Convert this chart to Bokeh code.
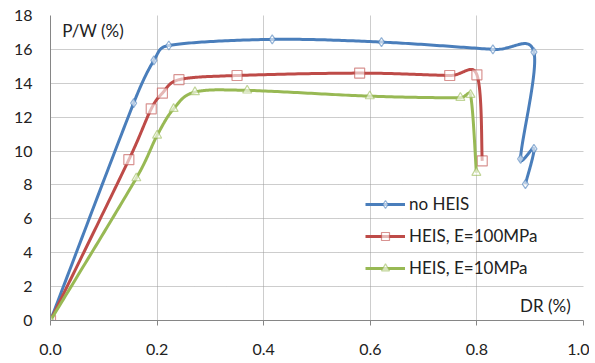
import numpy as np
from bokeh.plotting import figure
from bokeh.models import (Range1d, FixedTicker, Legend, LegendItem, Label,
                          CustomJSTickFormatter)
from bokeh.embed import file_html
from bokeh.resources import INLINE

# ---- data ----
series_names = ["no HEIS", "HEIS, E=100MPa", "HEIS, E=10MPa"]

dr_noheis = [0.0, 0.156, 0.194, 0.222, 0.416, 0.621, 0.830, 0.907, 0.882, 0.907, 0.891]
pw_noheis = [0.0, 12.83, 15.35, 16.23, 16.59, 16.43, 16.00, 15.84, 9.54, 10.13, 8.05]

dr_e100 = [0.0, 0.147, 0.189, 0.210, 0.241, 0.350, 0.580, 0.749, 0.800, 0.810]
pw_e100 = [0.0, 9.49, 12.49, 13.42, 14.21, 14.46, 14.60, 14.46, 14.50, 9.42]

dr_e10 = [0.0, 0.161, 0.200, 0.231, 0.271, 0.369, 0.599, 0.769, 0.788, 0.799]
pw_e10 = [0.0, 8.40, 10.92, 12.49, 13.48, 13.58, 13.24, 13.15, 13.32, 8.72]

x_ticks = [0.0, 0.2, 0.4, 0.6, 0.8, 1.0]
y_ticks = list(range(0, 19, 2))

colors = ["#4A7EBB", "#BE4B48", "#98B954"]
markers = ["diamond", "square", "triangle"]
marker_sizes = [9, 10, 9]
FONT = "Lato"

FW, FH = 533, 305
XR, YR = (0.0, 1.0), (0.0, 18.0)


def smooth(xs, ys, n=40):
    """Spreadsheet-style smoothed line: Bezier segments whose tangent
    handles are 1/6 of the neighbour chord, limited to half the segment
    (computed in screen pixels)."""
    sx = FW / (XR[1] - XR[0])
    sy = FH / (YR[1] - YR[0])
    P = np.column_stack([np.asarray(xs) * sx, np.asarray(ys) * sy]).astype(float)
    m = len(P)
    out = [P[0]]
    t = np.linspace(0, 1, n)[1:][:, None]
    for i in range(m - 1):
        p0 = P[i - 1] if i > 0 else P[i]
        p1 = P[i]
        p2 = P[i + 1]
        p3 = P[i + 2] if i + 2 < m else P[i + 1]
        d02 = np.hypot(*(p2 - p0))
        d12 = np.hypot(*(p2 - p1))
        d13 = np.hypot(*(p3 - p1))
        f1 = 1 / 6.0
        f2 = 1 / 6.0
        if d02 > 0 and d02 / 6.0 > d12 / 2.0:
            f1 = d12 / (2.0 * d02)
        if d13 > 0 and d13 / 6.0 > d12 / 2.0:
            f2 = d12 / (2.0 * d13)
        c1 = p1 + (p2 - p0) * f1
        c2 = p2 - (p3 - p1) * f2
        seg = ((1 - t) ** 3) * p1 + 3 * ((1 - t) ** 2) * t * c1 \
            + 3 * (1 - t) * t ** 2 * c2 + t ** 3 * p2
        out.extend(seg)
    out = np.array(out)
    return out[:, 0] / sx, out[:, 1] / sy


p = figure(frame_width=FW, frame_height=FH,
           x_range=Range1d(*XR), y_range=Range1d(*YR),
           output_backend="svg", toolbar_location=None,
           min_border_left=50, min_border_top=15, min_border_right=6,
           min_border_bottom=38, background_fill_color="white",
           border_fill_color="white")
p.outline_line_color = None

# axes
for ax in (p.xaxis[0], p.yaxis[0]):
    ax.axis_line_color = "#868686"
    ax.axis_line_width = 1
    ax.major_label_text_font = FONT
    ax.major_label_text_font_size = "16px"
    ax.major_label_text_color = "#222222"
    ax.minor_tick_line_color = None

p.xaxis.ticker = FixedTicker(ticks=x_ticks)
p.xaxis.formatter = CustomJSTickFormatter(code="return tick.toFixed(1);")
p.xaxis.major_tick_line_color = "#868686"
p.xaxis.major_tick_out = 5
p.xaxis.major_tick_in = 0
p.xaxis.major_label_standoff = 18

p.yaxis.ticker = FixedTicker(ticks=y_ticks)
p.yaxis.major_tick_line_color = None
p.yaxis.major_tick_out = 0
p.yaxis.major_tick_in = 0
p.yaxis.major_label_standoff = 18

# grid
p.xgrid.ticker = FixedTicker(ticks=x_ticks[1:])
p.ygrid.ticker = FixedTicker(ticks=y_ticks[1:])
for g in (p.xgrid[0], p.ygrid[0]):
    g.grid_line_color = "#9A9A9A"
    g.grid_line_dash = "1 1"
    g.grid_line_width = 1

items = []
data = [(dr_noheis, pw_noheis), (dr_e100, pw_e100), (dr_e10, pw_e10)]
for (xs, ys), name, c, mk, ms in zip(data, series_names, colors, markers, marker_sizes):
    sx, sy = smooth(xs, ys)
    lr = p.line(sx, sy, line_color=c, line_width=3, line_join="round")
    sr = p.scatter(xs, ys, marker=mk, size=ms, line_color=c, line_alpha=0.6,
                   line_width=1.2, fill_color="white", fill_alpha=0.6)
    items.append(LegendItem(label=name, renderers=[lr, sr]))

legend = Legend(items=items, location=(315, 42), orientation="vertical",
                background_fill_alpha=0, border_line_color=None,
                label_text_font=FONT, label_text_font_size="17px",
                label_text_color="#222222",
                glyph_width=40, glyph_height=20, label_height=20,
                spacing=11, padding=0, margin=0, label_standoff=4)
p.add_layout(legend, "center")

p.add_layout(Label(x=0.022, y=17.1, text="P/W (%)", text_font=FONT,
                   text_font_size="17px", text_color="#222222",
                   text_baseline="middle", text_align="left"))
p.add_layout(Label(x=0.976, y=0.9, text="DR (%)", text_font=FONT,
                   text_font_size="17px", text_color="#222222",
                   text_baseline="middle", text_align="right"))

open("out.html", "w").write(file_html(p, INLINE))
